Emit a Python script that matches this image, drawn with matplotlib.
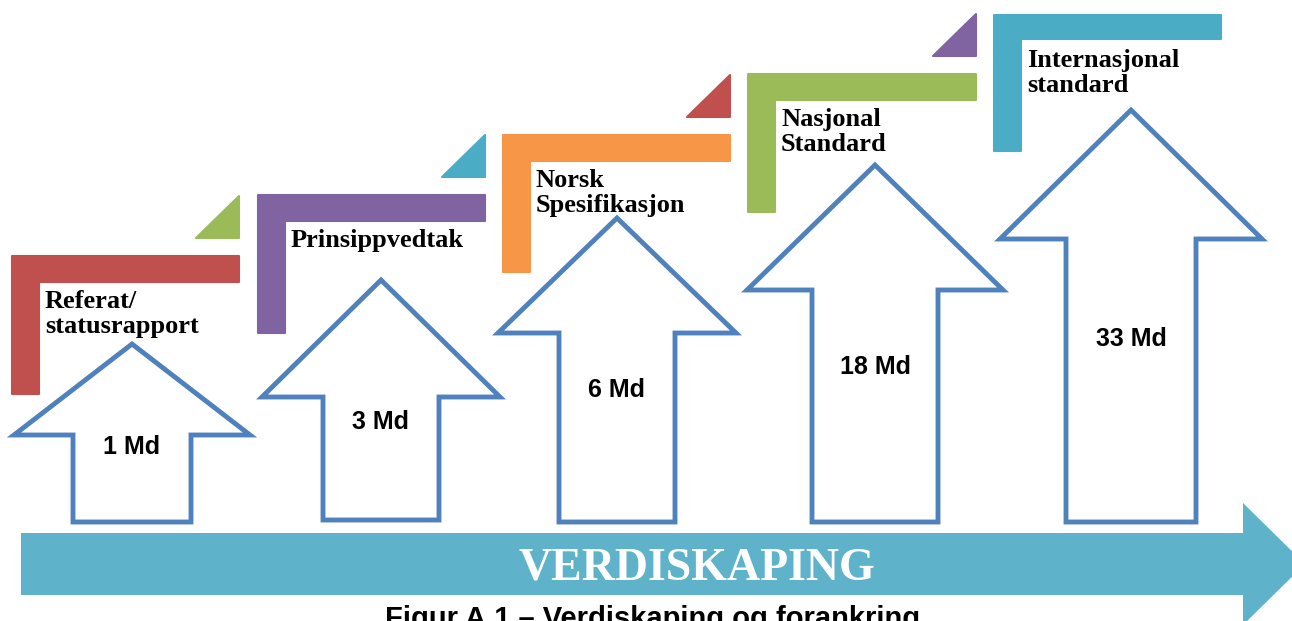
import matplotlib
matplotlib.use('Agg')
import matplotlib.pyplot as plt
from matplotlib.patches import Polygon

# data
stages = [("Referat/", "statusrapport"), ("Prinsippvedtak",), ("Norsk", "Spesifikasjon"),
          ("Nasjonal", "Standard"), ("Internasjonal", "standard")]
values = ["1 Md", "3 Md", "6 Md", "18 Md", "33 Md"]
stage_colors = ['#C0504D', '#8064A2', '#F79646', '#9BBB59', '#4BACC6']
tri_colors = ['#9BBB59', '#4BACC6', '#C0504D', '#8064A2']
main_label = "VERDISKAPING"
caption = "Figur A.1 – Verdiskaping og forankring"

# layout (pixel coords, y going down)
W, H = 1292, 621
L_x0 = [12, 258, 503, 748, 994]
L_y0 = [256, 195, 135, 74, 15]
L_x1 = [239, 485, 730, 976, 1221]
L_y1 = [394, 333, 272, 212, 151]
L_t = [26, 26, 26, 26, 24]
L_w = 27

arr_cx = [132, 381, 617, 875, 1131]
arr_tip = [344, 280, 218, 165, 110]
arr_base = [435, 397, 333, 290, 239]
arr_head = [118, 119, 119, 128, 131]
arr_body = [59, 58, 58, 63, 65]
arr_bot = [522, 520, 522, 522, 522]
lab_y = [445, 420, 388, 365, 337]

fig = plt.figure(figsize=(W / 100, H / 100), dpi=100)
ax = fig.add_axes([0, 0, 1, 1])
ax.set_xlim(0, W)
ax.set_ylim(H, 0)
ax.axis('off')

serif = 'Liberation Serif'
sans = 'Liberation Sans'

# L-shaped brackets with stage names
for i, lines in enumerate(stages):
    x0, y0, x1, y1, t = L_x0[i], L_y0[i], L_x1[i], L_y1[i], L_t[i]
    pts = [(x0, y0), (x1, y0), (x1, y0 + t), (x0 + L_w, y0 + t), (x0 + L_w, y1), (x0, y1)]
    ax.add_patch(Polygon(pts, closed=True, facecolor=stage_colors[i],
                         edgecolor=stage_colors[i], lw=1.5, joinstyle='round'))
    for k, line in enumerate(lines):
        ax.text(x0 + L_w + 6, y0 + 52 + 25 * k, line, fontfamily=serif, fontweight='bold',
                fontsize=19, color='black', va='baseline', ha='left')
    # small triangle above the bracket
    if i < len(tri_colors):
        tb = y0 - 18
        tri = [(x1, tb - 42), (x1, tb), (x1 - 43, tb)]
        ax.add_patch(Polygon(tri, closed=True, facecolor=tri_colors[i],
                             edgecolor=tri_colors[i], lw=1.5, joinstyle='round'))

# up arrows
for i, val in enumerate(values):
    cx, h, b = arr_cx[i], arr_head[i], arr_body[i]
    pts = [(cx, arr_tip[i]), (cx + h, arr_base[i]), (cx + b, arr_base[i]), (cx + b, arr_bot[i]),
           (cx - b, arr_bot[i]), (cx - b, arr_base[i]), (cx - h, arr_base[i])]
    ax.add_patch(Polygon(pts, closed=True, facecolor='white', edgecolor='#4F81BD',
                         lw=3.5, joinstyle='miter'))
    ax.text(cx, lab_y[i] + 9, val, fontfamily=sans, fontweight='bold', fontsize=18,
            ha='center', va='baseline', color='black')

# big horizontal arrow
big = [(21, 533), (1243, 533), (1243, 503), (1305, 564), (1243, 625), (1243, 595), (21, 595)]
ax.add_patch(Polygon(big, closed=True, facecolor='#5EB3CA', edgecolor='none'))
ax.text(697, 580, main_label, fontfamily=serif, fontweight='bold', fontsize=33,
        color='white', ha='center', va='baseline')

# caption (cut at the bottom edge as in the source page)
ax.text(653, 627, caption, fontfamily=sans, fontweight='bold', fontsize=21,
        color='black', ha='center', va='baseline')

fig.savefig('out.png', dpi=100)
